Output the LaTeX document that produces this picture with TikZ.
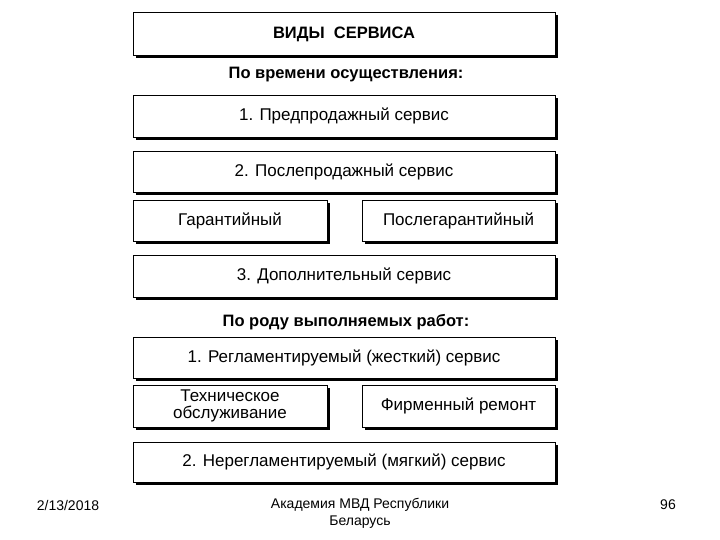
\documentclass[tikz,border=0pt]{standalone}
\usepackage{fontspec}
\setmainfont{Liberation Sans}
\usetikzlibrary{shadows}
\tikzset{
  box/.style={draw=black, line width=0.8pt, fill=white, inner sep=0pt,
    drop shadow={shadow xshift=3pt, shadow yshift=-3pt, fill=black, opacity=1},
    font=\fontsize{17}{17}\selectfont, align=center},
  head/.style={font=\bfseries\fontsize{16.5}{18}\selectfont, inner sep=0pt},
  foot/.style={font=\fontsize{14}{17}\selectfont, inner sep=0pt, align=center}
}
\begin{document}
\begin{tikzpicture}[x=1pt,y=-1pt]
\useasboundingbox (0,0) rectangle (720,540);
\node[box, minimum width=422pt, minimum height=43pt, font=\bfseries\fontsize{16.5}{17}\selectfont] (title) at (344,34) {ВИДЫ\ \ СЕРВИСА};
\node[head] (h1) at (346,75) {По времени осуществления:};
\node[box, minimum width=422pt, minimum height=42pt] (b1) at (344,116) {1. Предпродажный сервис};
\node[box, minimum width=422pt, minimum height=41pt] (b2) at (344,172) {2. Послепродажный сервис};
\node[box, minimum width=194pt, minimum height=41pt] (g) at (230,220.5) {Гарантийный};
\node[box, minimum width=193pt, minimum height=41pt] (pg) at (458.5,220.5) {Послегарантийный};
\node[box, minimum width=422pt, minimum height=42pt] (b3) at (344,276) {3. Дополнительный сервис};
\node[head] (h2) at (346,322) {По роду выполняемых работ:};
\node[box, minimum width=422pt, minimum height=41pt] (r1) at (344,357.5) {1. Регламентируемый (жесткий) сервис};
\node[box, minimum width=194pt, minimum height=42pt] (to) at (230,406) {Техническое\\обслуживание};
\node[box, minimum width=193pt, minimum height=42pt] (fr) at (458.5,406) {Фирменный ремонт};
\node[box, minimum width=422pt, minimum height=40pt] (r2) at (344,462) {2. Нерегламентируемый (мягкий) сервис};
\node[foot] (date) at (68,505) {2/13/2018};
\node[foot] (acad) at (360,513) {Академия МВД Республики\\Беларусь};
\node[foot] (num) at (668,505) {96};
\end{tikzpicture}
\end{document}
